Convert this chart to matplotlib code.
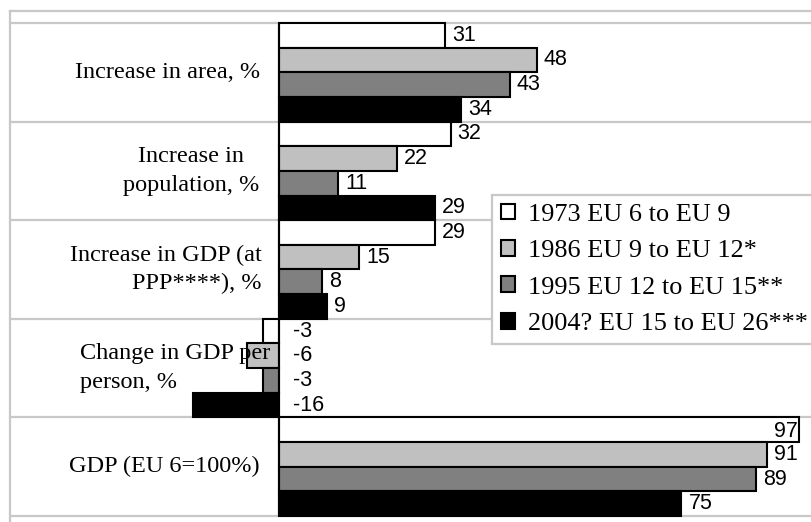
import matplotlib
matplotlib.use("Agg")
import matplotlib.pyplot as plt
from matplotlib.patches import Patch

# --- data -------------------------------------------------------------
categories = [
    "Increase in area, %",
    "Increase in\npopulation, %",
    "Increase in GDP (at\nPPP****), %",
    "Change in GDP per\nperson, %",
    "GDP (EU 6=100%)",
]
series_names = [
    "1973 EU 6 to EU 9",
    "1986 EU 9 to EU 12*",
    "1995 EU 12 to EU 15**",
    "2004? EU 15 to EU 26***",
]
v1973 = [31, 32, 29, -3, 97]
v1986 = [48, 22, 15, -6, 91]
v1995 = [43, 11, 8, -3, 89]
v2004 = [34, 29, 9, -16, 75]

# --- styling ----------------------------------------------------------
colors = ["#ffffff", "#c0c0c0", "#808080", "#000000"]
grid_col = "#c8c8c8"
serif = "Liberation Serif"
sans = "Liberation Sans"
value_size = 15.5

W, H = 811, 522
fig = plt.figure(figsize=(W / 100, H / 100), dpi=100)
ax = fig.add_axes([10 / W, 0, (W - 10) / W, 511 / H])

x0_px, px_per_unit = 279, 5.365
ax.set_xlim((10 - x0_px) / px_per_unit, (W - x0_px) / px_per_unit)
band_top, band_h = 23, 98.6
ax.set_ylim((H - band_top) / band_h - 0.5, (11 - band_top) / band_h - 0.5)

n_series = 4
bar_h = 1.0 / n_series
all_vals = [v1973, v1986, v1995, v2004]
for s, (vals, col, name) in enumerate(zip(all_vals, colors, series_names)):
    ys = [i - 0.5 + bar_h * (s + 0.5) for i in range(len(categories))]
    ax.barh(ys, vals, height=bar_h, color=col, edgecolor="black",
            linewidth=1.5, label=name, zorder=3)
    for y, v in zip(ys, vals):
        if v < 0:
            ax.annotate(f"{v}", xy=(0, y), xytext=(14, 0),
                        textcoords="offset pixels", ha="left", va="center",
                        fontsize=value_size, family=sans, zorder=5)
        elif v > 95:
            ax.annotate(f"{v}", xy=(v, y), xytext=(-2, -2),
                        textcoords="offset pixels", ha="right", va="center",
                        fontsize=value_size, family=sans, zorder=5)
        else:
            ax.annotate(f"{v}", xy=(v, y), xytext=(7, 0),
                        textcoords="offset pixels", ha="left", va="center",
                        fontsize=value_size, family=sans, zorder=5)

# category separators and zero axis
for k in range(len(categories) + 1):
    ax.axhline(k - 0.5, color=grid_col, linewidth=1.6, zorder=1)
ax.plot([0, 0], [-0.5, len(categories) - 0.5], color="black",
        linewidth=1.5, zorder=4, solid_capstyle="butt")

# category labels
label_style = [("right", -19), ("center", -20), ("right", -17),
               ("left", -9), ("right", -19)]
for i, (cat, (malign, dx)) in enumerate(zip(categories, label_style)):
    ax.annotate(cat, xy=(0, i), xytext=(dx, 0), textcoords="offset pixels",
                ha="right", va="center", multialignment=malign,
                fontsize=17.5, family=serif, linespacing=1.45, zorder=6)

ax.set_xticks([])
ax.set_yticks([])
for side in ("right", "bottom"):
    ax.spines[side].set_visible(False)
for side in ("left", "top"):
    ax.spines[side].set_color(grid_col)
    ax.spines[side].set_linewidth(1.6)

handles = [Patch(facecolor=c, edgecolor="black", linewidth=1.5) for c in colors]
leg = fig.legend(handles, series_names, loc="upper left",
                 bbox_to_anchor=(492 / W, 1 - 195 / H),
                 prop={"family": serif, "size": 18.9},
                 frameon=True, fancybox=False, edgecolor=grid_col,
                 framealpha=1, borderaxespad=0, borderpad=0.33,
                 labelspacing=0.54, handlelength=0.55, handleheight=0.55,
                 handletextpad=0.5)
leg.get_frame().set_linewidth(1.6)
leg.set_zorder(10)

fig.savefig("out.png", dpi=100)
